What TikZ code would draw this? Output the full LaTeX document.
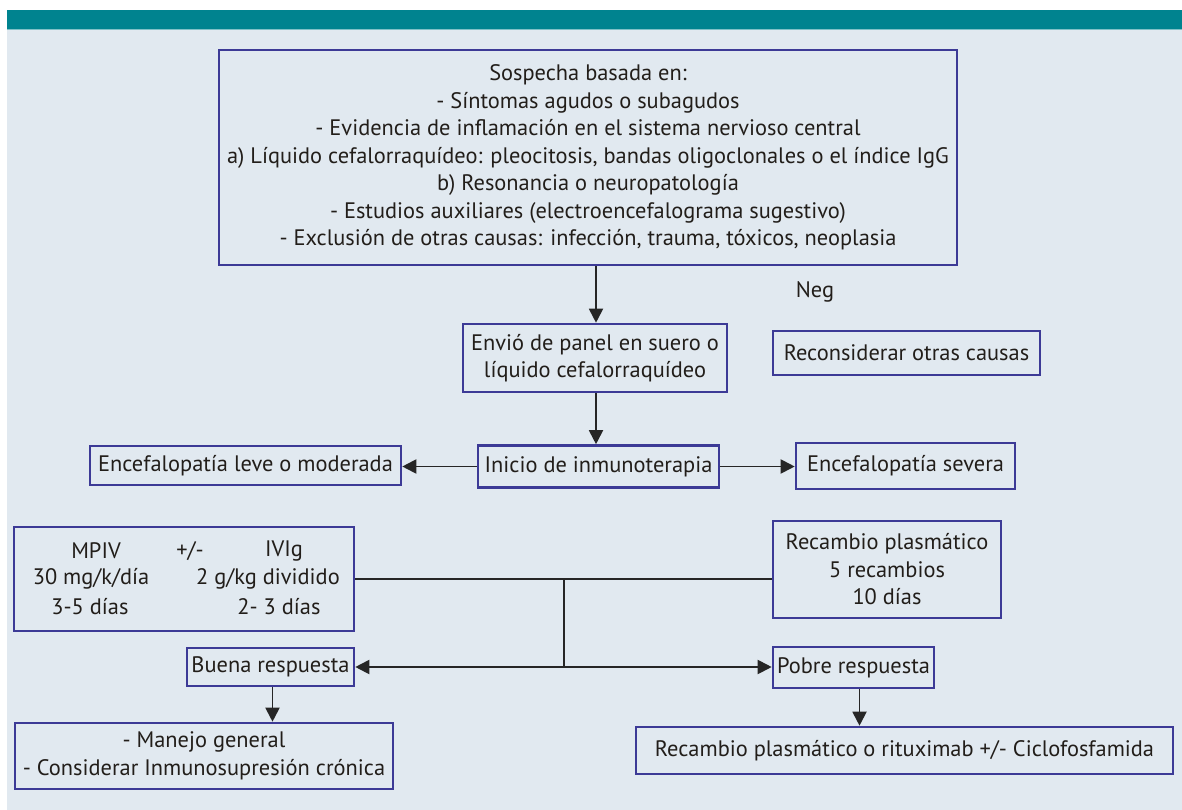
\documentclass[tikz,border=0pt]{standalone}
\usepackage{fontspec}
\setmainfont{PT Sans}
\usetikzlibrary{arrows.meta}
\definecolor{teal1}{HTML}{00838F}
\definecolor{bgc}{HTML}{E1E9F0}
\definecolor{boxc}{HTML}{3C3A96}
\definecolor{txt}{HTML}{221E1A}
\newcommand{\fsz}{\fontsize{22.4}{27.5}\selectfont}
\tikzset{
  bx/.style={draw=boxc, line width=2.6pt, rectangle, inner sep=0pt, text=txt, align=center, font=\fsz},
  tx/.style={inner sep=0pt, text=txt, font=\fsz},
  ln/.style={draw=black!85, line width=1.9pt},
  arr/.style={ln, -{Triangle[length=14pt,width=14pt]}},
  arr2/.style={ln, {Triangle[length=14pt,width=14pt]}-{Triangle[length=14pt,width=14pt]}}
}
\begin{document}
\begin{tikzpicture}[x=1pt,y=-1pt]
\useasboundingbox (0,0) rectangle (1182,810);
\fill[white] (0,0) rectangle (1182,810);
\fill[bgc] (7,30) rectangle (1182,810);
\fill[teal1] (7,10) rectangle (1182,29.5);
\draw[teal1!50, line width=1pt] (7,30) -- (1182,30);

\node[bx, minimum width=738, minimum height=215] (top) at (588,157.5) {Sospecha basada en:\\
- Síntomas agudos o subagudos\\
- Evidencia de inflamación en el sistema nervioso central\\
a) Líquido cefalorraquídeo: pleocitosis, bandas oligoclonales o el índice IgG\\
b) Resonancia o neuropatología\\
- Estudios auxiliares (electroencefalograma sugestivo)\\
- Exclusión de otras causas: infección, trauma, tóxicos, neoplasia};

\node[tx] (neg) at (815,292) {Neg};

\node[bx, minimum width=264, minimum height=68] (panel) at (595,358) {Envió de panel en suero o\\líquido cefalorraquídeo};
\node[bx, minimum width=267, minimum height=44] (recon) at (906.5,353) {Reconsiderar otras causas};

\node[bx, minimum width=241, minimum height=42] (inicio) at (598.5,466.5) {Inicio de inmunoterapia};
\node[bx, minimum width=311, minimum height=39] (leve) at (245.5,465.5) {Encefalopatía leve o moderada};
\node[bx, minimum width=219, minimum height=46] (severa) at (905.5,466) {Encefalopatía severa};

\node[bx, minimum width=340, minimum height=104] (mpiv) at (184,579) {};
\node[tx] (m1) at (96,551) {MPIV};
\node[tx] (m2) at (190,551) {+/-};
\node[tx] (m3) at (284,551) {IVIg};
\node[tx] (m4) at (91,579) {30 mg/k/día};
\node[tx] (m5) at (268,579) {2 g/kg dividido};
\node[tx] (m6) at (90,607) {3-5 días};
\node[tx] (m7) at (279,607) {2- 3 días};

\node[bx, minimum width=228, minimum height=97] (recambio) at (887,569.5) {Recambio plasmático\\5 recambios\\10 días};

\node[bx, minimum width=167, minimum height=38] (buena) at (270.5,667) {Buena respuesta};
\node[bx, minimum width=161, minimum height=41] (pobre) at (853.5,667.5) {Pobre respuesta};

\node[bx, minimum width=378, minimum height=66] (manejo) at (204,756) {- Manejo general\\- Considerar Inmunosupresión crónica};
\node[bx, minimum width=537, minimum height=47] (rit) at (904.5,750.5) {Recambio plasmático o rituximab +/- Ciclofosfamida};

\coordinate (j1) at (564,579);
\coordinate (j2) at (564,667);

\draw[arr] ([xshift=8]top.south) -- ([xshift=8]top.south |- panel.north);
\draw[arr] ([xshift=1]panel.south) -- ([xshift=1]panel.south |- inicio.north);
\draw[arr] (inicio.west) -- (leve.east |- inicio.west);
\draw[arr] (inicio.east) -- (severa.west |- inicio.east);
\draw[ln] (mpiv.east) -- (recambio.west |- mpiv.east);
\draw[ln] (j1) -- (j2);
\draw[arr2] (buena.east) -- (pobre.west |- buena.east);
\draw[arr] ([xshift=2]buena.south) -- ([xshift=2]buena.south |- manejo.north);
\draw[arr] ([xshift=6]pobre.south) -- ([xshift=6]pobre.south |- rit.north);
\end{tikzpicture}
\end{document}
